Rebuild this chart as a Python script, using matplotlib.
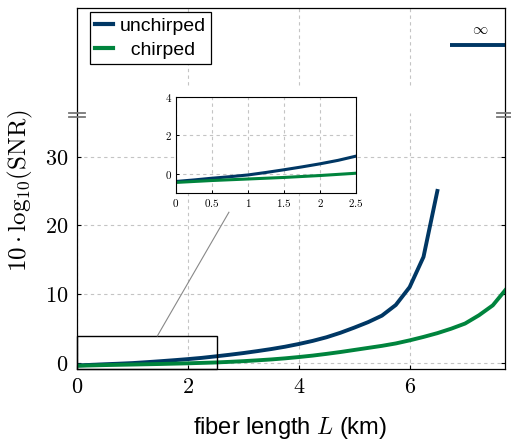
import matplotlib
matplotlib.use("Agg")
import matplotlib.pyplot as plt
from matplotlib.lines import Line2D
from matplotlib.ticker import FuncFormatter

plt.rcParams['mathtext.fontset'] = 'cm'
plt.rcParams['font.family'] = ['Liberation Sans', 'DejaVu Sans']

# ---------------- data ----------------
L_unchirped = [0, 0.25, 0.5, 0.75, 1.0, 1.25, 1.5, 1.75, 2.0, 2.25, 2.5, 2.75, 3.0,
               3.25, 3.5, 3.75, 4.0, 4.25, 4.5, 4.75, 5.0, 5.25, 5.5, 5.75, 6.0, 6.25, 6.5]
snr_unchirped = [-0.40, -0.32, -0.23, -0.15, -0.06, 0.07, 0.21, 0.36, 0.52, 0.70, 0.92,
                 1.15, 1.40, 1.68, 1.98, 2.32, 2.72, 3.17, 3.70, 4.35, 5.10, 5.90, 6.85,
                 8.40, 11.0, 15.4, 25.0]

L_chirped = [0, 0.25, 0.5, 0.75, 1.0, 1.25, 1.5, 1.75, 2.0, 2.25, 2.5, 2.75, 3.0, 3.25,
             3.5, 3.75, 4.0, 4.25, 4.5, 4.75, 5.0, 5.25, 5.5, 5.75, 6.0, 6.25, 6.5,
             6.75, 7.0, 7.25, 7.5, 7.75]
snr_chirped = [-0.45, -0.40, -0.35, -0.31, -0.27, -0.23, -0.19, -0.14, -0.09, -0.03,
               0.03, 0.12, 0.22, 0.34, 0.47, 0.63, 0.82, 1.03, 1.28, 1.55, 1.85, 2.15,
               2.45, 2.80, 3.25, 3.75, 4.30, 4.95, 5.70, 6.90, 8.35, 10.8]

L_infinity = [6.72, 7.75]          # unchirped SNR -> infinity
label_unchirped = 'unchirped'
label_chirped = '  chirped'

x_ticks = [0, 2, 4, 6]
y_ticks = [0, 10, 20, 30]
inset_x_ticks = [0, 0.5, 1, 1.5, 2, 2.5]
inset_y_ticks = [0, 2, 4]

BLUE = '#003764'
GREEN = '#00843d'
GRID = dict(color='#c4c4c4', linestyle=(0, (3, 3)), linewidth=0.8)

W, H = 511, 441
fig = plt.figure(figsize=(W / 100, H / 100), dpi=100)

mathfmt = FuncFormatter(lambda v, p: r'$%g$' % v)

# ---------------- lower (main) axes ----------------
ax = fig.add_axes([77 / W, 72 / H, 428 / W, 256 / H])
ax.set_xlim(0, 7.72)
ax.set_ylim(-0.92, 36.35)
ax.set_xticks(x_ticks)
ax.set_yticks(y_ticks)
ax.xaxis.set_major_formatter(mathfmt)
ax.yaxis.set_major_formatter(mathfmt)
ax.tick_params(direction='in', length=3, width=0.8, labelsize=16, right=True, top=False,
               pad=6)
ax.grid(True, **GRID)
ax.set_axisbelow(True)
for s in ax.spines.values():
    s.set_linewidth(0.9)
ax.spines['top'].set_visible(False)

ax.plot(L_unchirped, snr_unchirped, color=BLUE, lw=2.8, solid_joinstyle='round',
        label=label_unchirped, zorder=3)
ax.plot(L_chirped, snr_chirped, color=GREEN, lw=2.8, solid_joinstyle='round',
        label=label_chirped, zorder=3)

# zoom rectangle and connector
ax.add_patch(plt.Rectangle((0, -0.92), 2.52, 4.82, fill=False, edgecolor='black',
                           lw=1.0, zorder=4, clip_on=False))
ax.plot([1.45, 2.74], [3.9, 21.9], color='#888888', lw=0.8, zorder=4)

ax.set_xlabel(r'fiber length $L$ (km)', fontsize=17)
ax.xaxis.set_label_coords(0.4977, -0.23)
ax.xaxis.label.set_va('center')
ax.set_ylabel(r'$10\cdot\mathrm{log}_{10}(\mathrm{SNR})$', fontsize=18)
ax.yaxis.set_label_coords(-0.133, 0.695)
ax.yaxis.label.set_va('center')

# ---------------- upper axes (infinity) ----------------
axt = fig.add_axes([77 / W, 328 / H, 428 / W, 105 / H])
axt.set_xlim(0, 7.72)
axt.set_ylim(0, 1)
axt.set_xticks([])
axt.set_yticks([])
for s in axt.spines.values():
    s.set_linewidth(0.9)
axt.spines['bottom'].set_visible(False)
for xv in x_ticks[1:]:
    axt.axvline(xv, ymin=0.27, ymax=1, **GRID, zorder=0)
axt.plot(L_infinity, [0.648, 0.648], color=BLUE, lw=2.8, solid_capstyle='butt')
axt.text(7.27, 0.79, r'$\infty$', fontsize=11, ha='center', va='center')

leg = axt.legend(handles=[Line2D([], [], color=BLUE, lw=3),
                          Line2D([], [], color=GREEN, lw=3)],
                 labels=[label_unchirped, label_chirped],
                 loc='upper left', bbox_to_anchor=(90 / W, 1 - 12 / H),
                 bbox_transform=fig.transFigure, borderaxespad=0,
                 fontsize=14, handlelength=0.9, handletextpad=0.35,
                 borderpad=0.28, labelspacing=0.3, fancybox=False, framealpha=1,
                 edgecolor='black')
leg.get_frame().set_linewidth(0.9)

# break marks
for yb in (113, 117):
    for xc in (77, 505):
        fig.add_artist(Line2D([(xc - 8) / W, (xc + 8) / W], [1 - yb / H, 1 - yb / H],
                              color='#777777', lw=1.3))

# ---------------- inset ----------------
axi = fig.add_axes([176 / W, 1 - 193 / H, 180 / W, 96 / H])
axi.set_xlim(0, 2.5)
axi.set_ylim(-1, 4)
axi.set_xticks(inset_x_ticks)
axi.set_yticks(inset_y_ticks)
axi.xaxis.set_major_formatter(mathfmt)
axi.yaxis.set_major_formatter(mathfmt)
axi.tick_params(direction='in', length=2, width=0.7, labelsize=8, pad=3)
axi.grid(True, **GRID)
axi.set_axisbelow(True)
for s in axi.spines.values():
    s.set_linewidth(0.8)
axi.plot(L_unchirped, snr_unchirped, color=BLUE, lw=2.2)
axi.plot(L_chirped, snr_chirped, color=GREEN, lw=2.2)

fig.savefig('out.png', dpi=100)
